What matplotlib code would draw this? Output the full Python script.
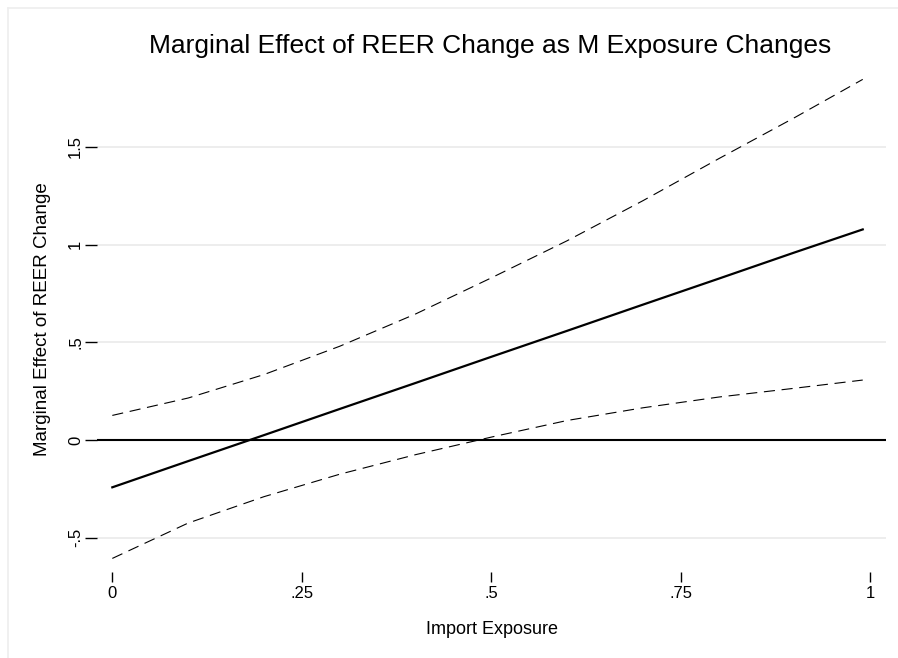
import matplotlib
matplotlib.use("Agg")
import matplotlib.pyplot as plt
from matplotlib.lines import Line2D

plt.rcParams['font.family'] = ['Liberation Sans', 'DejaVu Sans']

# import exposure values where the margins were evaluated
exposure = [0.0, 0.1, 0.2, 0.3, 0.4, 0.5, 0.6, 0.7, 0.8, 0.9, 0.99]
# marginal effect of REER change (point estimate) and 95% bounds
effect = [-0.242, -0.108, 0.025, 0.159, 0.292, 0.426, 0.559, 0.693, 0.826, 0.960, 1.078]
upper = [0.126, 0.215, 0.335, 0.480, 0.645, 0.830, 1.020, 1.225, 1.440, 1.650, 1.846]
lower = [-0.606, -0.425, -0.290, -0.175, -0.075, 0.015, 0.100, 0.165, 0.220, 0.265, 0.307]

xticks = [0, 0.25, 0.5, 0.75, 1]
xticklabels = ["0", ".25", ".5", ".75", "1"]
yticks = [-0.5, 0, 0.5, 1, 1.5]
yticklabels = ["-.5", "0", ".5", "1", "1.5"]

W, H = 898, 658
fig = plt.figure(figsize=(W / 100, H / 100), dpi=100)

# light outer frame of the graph region (only top and left edges are inside the image)
x0, y0 = 7.5 / W, 1 - 7.5 / H
fig.lines.append(Line2D([x0, 1], [y0, y0], transform=fig.transFigure, color="#eeeeee", linewidth=1.2))
fig.lines.append(Line2D([x0, x0], [0, y0], transform=fig.transFigure, color="#eeeeee", linewidth=1.2))

ax = fig.add_axes([97 / W, 1 - 568 / H, (886 - 97) / W, (568 - 70) / H])

# gridlines (no line at zero, the zero reference line is drawn instead)
for yv in yticks:
    if yv != 0:
        ax.axhline(yv, color="#eaeaea", linewidth=1.2, zorder=0)
ax.axhline(0, color="black", linewidth=1.5, zorder=1)

ax.plot(exposure, effect, color="black", linewidth=1.6, zorder=3)
ax.plot(exposure, upper, color="black", linewidth=0.8, dashes=(10, 6), zorder=2)
ax.plot(exposure, lower, color="black", linewidth=0.8, dashes=(10, 6), zorder=2)

ax.set_xlim(-0.0202, 1.0207)
ax.set_ylim(-0.655, 1.894)

for s in ax.spines.values():
    s.set_visible(False)
ax.spines['bottom'].set_position(('outward', 3))

ax.set_xticks(xticks)
ax.set_xticklabels(xticklabels)
ax.set_yticks(yticks)
ax.set_yticklabels(yticklabels, rotation=90, va="center")
ax.tick_params(axis="x", length=7, width=1, pad=3, labelsize=12)
ax.tick_params(axis="y", length=9, width=1, pad=1, labelsize=12)

ax.set_xlabel("Import Exposure", fontsize=13, labelpad=14)
ax.set_ylabel("Marginal Effect of REER Change", fontsize=13.5, labelpad=12)
fig.text(490 / W, 1 - 46 / H, "Marginal Effect of REER Change as M Exposure Changes",
         fontsize=19, ha="center", va="center")

fig.savefig("out.png", dpi=100)
